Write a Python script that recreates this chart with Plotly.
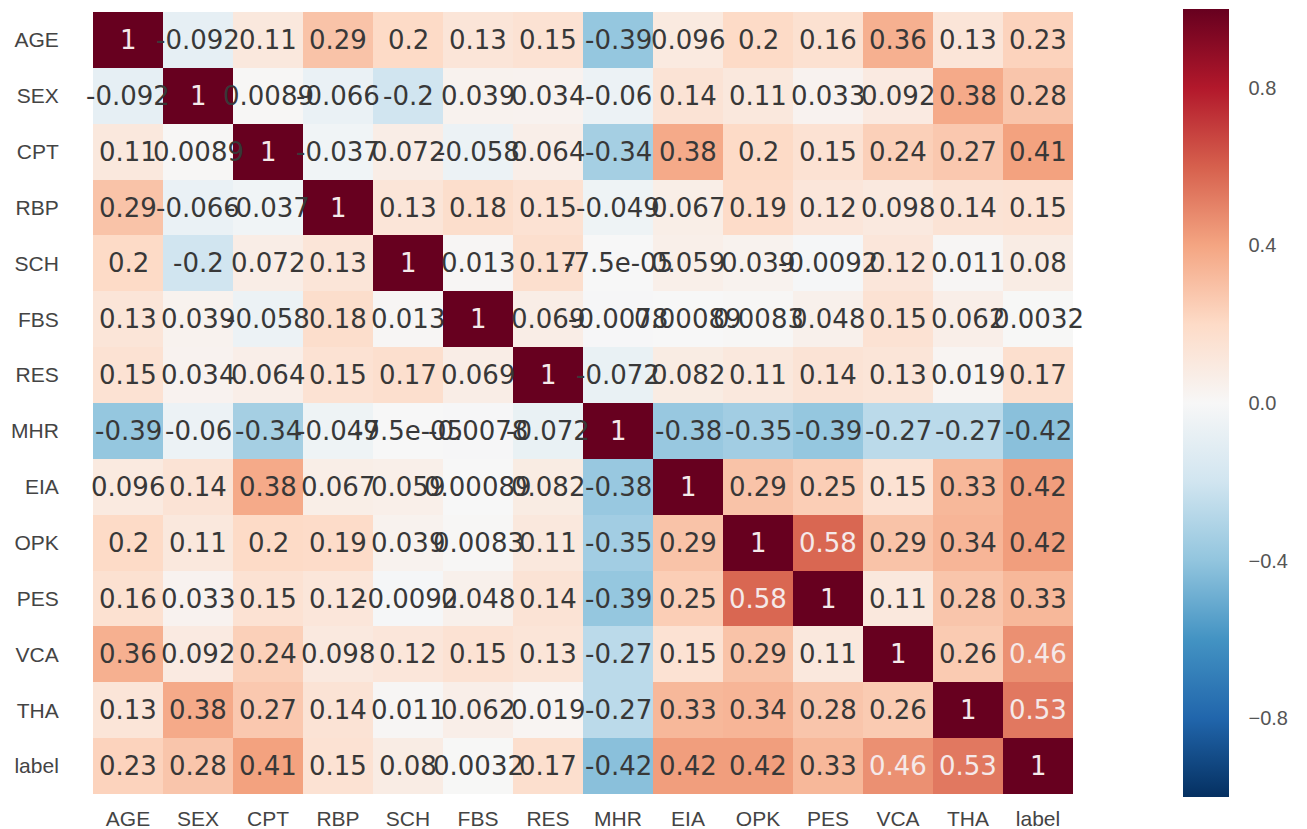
import plotly.graph_objects as go

labels = ["AGE", "SEX", "CPT", "RBP", "SCH", "FBS", "RES", "MHR", "EIA", "OPK", "PES", "VCA", "THA", "label"]

r_age = [1, -0.092, 0.11, 0.29, 0.2, 0.13, 0.15, -0.39, 0.096, 0.2, 0.16, 0.36, 0.13, 0.23]
r_sex = [-0.092, 1, 0.0089, -0.066, -0.2, 0.039, 0.034, -0.06, 0.14, 0.11, 0.033, 0.092, 0.38, 0.28]
r_cpt = [0.11, 0.0089, 1, -0.037, 0.072, -0.058, 0.064, -0.34, 0.38, 0.2, 0.15, 0.24, 0.27, 0.41]
r_rbp = [0.29, -0.066, -0.037, 1, 0.13, 0.18, 0.15, -0.049, 0.067, 0.19, 0.12, 0.098, 0.14, 0.15]
r_sch = [0.2, -0.2, 0.072, 0.13, 1, 0.013, 0.17, -7.5e-05, 0.059, 0.039, -0.0092, 0.12, 0.011, 0.08]
r_fbs = [0.13, 0.039, -0.058, 0.18, 0.013, 1, 0.069, -0.0078, 0.00089, 0.0083, 0.048, 0.15, 0.062, 0.0032]
r_res = [0.15, 0.034, 0.064, 0.15, 0.17, 0.069, 1, -0.072, 0.082, 0.11, 0.14, 0.13, 0.019, 0.17]
r_mhr = [-0.39, -0.06, -0.34, -0.049, -7.5e-05, -0.0078, -0.072, 1, -0.38, -0.35, -0.39, -0.27, -0.27, -0.42]
r_eia = [0.096, 0.14, 0.38, 0.067, 0.059, 0.00089, 0.082, -0.38, 1, 0.29, 0.25, 0.15, 0.33, 0.42]
r_opk = [0.2, 0.11, 0.2, 0.19, 0.039, 0.0083, 0.11, -0.35, 0.29, 1, 0.58, 0.29, 0.34, 0.42]
r_pes = [0.16, 0.033, 0.15, 0.12, -0.0092, 0.048, 0.14, -0.39, 0.25, 0.58, 1, 0.11, 0.28, 0.33]
r_vca = [0.36, 0.092, 0.24, 0.098, 0.12, 0.15, 0.13, -0.27, 0.15, 0.29, 0.11, 1, 0.26, 0.46]
r_tha = [0.13, 0.38, 0.27, 0.14, 0.011, 0.062, 0.019, -0.27, 0.33, 0.34, 0.28, 0.26, 1, 0.53]
r_label = [0.23, 0.28, 0.41, 0.15, 0.08, 0.0032, 0.17, -0.42, 0.42, 0.42, 0.33, 0.46, 0.53, 1]

cbar_ticks = [-0.8, -0.4, 0.0, 0.4, 0.8]

corr = [r_age, r_sex, r_cpt, r_rbp, r_sch, r_fbs, r_res, r_mhr, r_eia, r_opk, r_pes, r_vca, r_tha, r_label]

# matplotlib RdBu_r
rdbu_hex = ['#053061', '#2166ac', '#4393c3', '#92c5de', '#d1e5f0', '#f7f7f7',
            '#fddbc7', '#f4a582', '#d6604d', '#b2182b', '#67001f']
n = len(rdbu_hex)
colorscale = [[i / (n - 1), c] for i, c in enumerate(rdbu_hex)]


def hex2rgb(h):
    h = h.lstrip('#')
    return [int(h[i:i + 2], 16) / 255 for i in (0, 2, 4)]


def color_at(v):
    t = (v + 1) / 2
    t = min(max(t, 0), 1)
    pos = t * (n - 1)
    i = min(int(pos), n - 2)
    f = pos - i
    a, b = hex2rgb(rdbu_hex[i]), hex2rgb(rdbu_hex[i + 1])
    return [a[k] + (b[k] - a[k]) * f for k in range(3)]


def lum(rgb):
    out = []
    for c in rgb:
        out.append(c / 12.92 if c <= 0.03928 else ((c + 0.055) / 1.055) ** 2.4)
    return 0.2126 * out[0] + 0.7152 * out[1] + 0.0722 * out[2]


L, R, T, B = 93, 234, 12, 35
W, H = 1307, 829

fig = go.Figure()
fig.add_trace(go.Heatmap(
    z=corr, x=labels, y=labels,
    colorscale=colorscale, zmin=-1, zmax=1,
    xgap=0, ygap=0, hoverinfo="skip",
    colorbar=dict(
        thickness=46, thicknessmode="pixels",
        len=788, lenmode="pixels",
        x=(1183 - L) / (W - L - R), xanchor="left", y=0.5, yanchor="middle", ypad=0, xpad=0,
        outlinewidth=0,
        tickvals=cbar_ticks, tickformat=".1f",
        ticks="outside", ticklen=16, tickcolor="rgba(0,0,0,0)",
        tickfont=dict(family="Liberation Sans", size=20, color="#555555"),
    ),
))

annotations = []
for i, row in enumerate(corr):
    for j, v in enumerate(row):
        col = "#f5e9e9" if lum(color_at(v)) <= 0.408 else "#383838"
        annotations.append(dict(
            x=labels[j], y=labels[i], xref="x", yref="y",
            text=format(v, ".2g"), showarrow=False,
            font=dict(family="DejaVu Sans", size=26, color=col),
        ))
fig.update_layout(annotations=annotations)

fig.update_layout(
    width=W, height=H,
    margin=dict(l=L, r=R, t=T, b=B, autoexpand=False),
    paper_bgcolor="white", plot_bgcolor="white",
    showlegend=False,
)
fig.update_xaxes(range=[-0.5, len(labels) - 0.5], autorange=False,
                 showgrid=False, zeroline=False, showline=False, automargin=False,
                 ticks="outside", ticklen=6, tickcolor="rgba(0,0,0,0)",
                 tickfont=dict(family="Liberation Sans", size=21, color="#444444"))
fig.update_yaxes(range=[len(labels) - 0.5, -0.5], autorange=False,
                 showgrid=False, zeroline=False, showline=False,
                 automargin=False,
                 ticks="outside", ticklen=29, tickcolor="rgba(0,0,0,0)",
                 tickfont=dict(family="Liberation Sans", size=21, color="#444444"))

fig.write_html("out.html", config={"displayModeBar": False},
               post_script="document.body.style.margin='0';document.body.style.overflow='hidden';")
